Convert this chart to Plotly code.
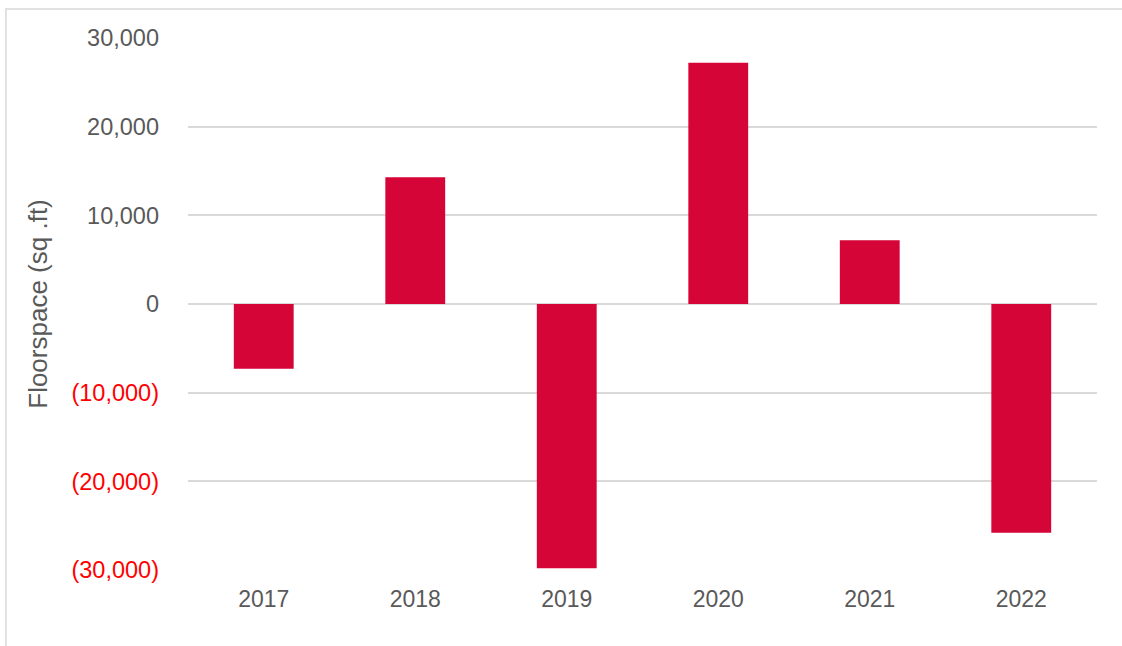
import plotly.graph_objects as go

years = ["2017", "2018", "2019", "2020", "2021", "2022"]
floorspace = [-7300, 14300, -29800, 27200, 7200, -25800]

tick_vals = [-30000, -20000, -10000, 0, 10000, 20000, 30000]
tick_text = [
    '<span style="color:#ff0000">(30,000)</span>',
    '<span style="color:#ff0000">(20,000)</span>',
    '<span style="color:#ff0000">(10,000)</span>',
    "0",
    "10,000",
    "20,000",
    "30,000",
]

bar_color = "#d50537"
text_color = "#595959"
grid_color = "#d9d9d9"

fig = go.Figure(
    go.Bar(x=years, y=floorspace, marker=dict(color=bar_color, line=dict(width=0)))
)

fig.update_layout(
    width=1122,
    height=646,
    margin=dict(l=188, r=25, t=38, b=76),
    paper_bgcolor="white",
    plot_bgcolor="white",
    bargap=0.605,
    showlegend=False,
    font=dict(family="Liberation Sans, Arial, sans-serif", size=23, color=text_color),
    shapes=[
        dict(
            type="rect", xref="paper", yref="paper",
            x0=-0.2003, x1=1.1, y0=-0.15, y1=1.0544,
            line=dict(color="#d9d9d9", width=1.5), fillcolor="rgba(0,0,0,0)",
            layer="below",
        )
    ],
)

fig.update_xaxes(
    showgrid=False, zeroline=False, showline=False,
    ticks="", ticklabelstandoff=13,
    tickfont=dict(size=23, color=text_color),
)
fig.update_yaxes(
    range=[-30000, 30000],
    tickvals=tick_vals, ticktext=tick_text,
    showgrid=True, gridcolor=grid_color, gridwidth=1.5,
    zeroline=False, showline=False,
    ticks="", ticklabelstandoff=28,
    tickfont=dict(size=23.5, color=text_color),
    title=dict(text="Floorspace (sq .ft)", font=dict(size=26, color=text_color), standoff=16),
)

fig.write_html("out.html")
